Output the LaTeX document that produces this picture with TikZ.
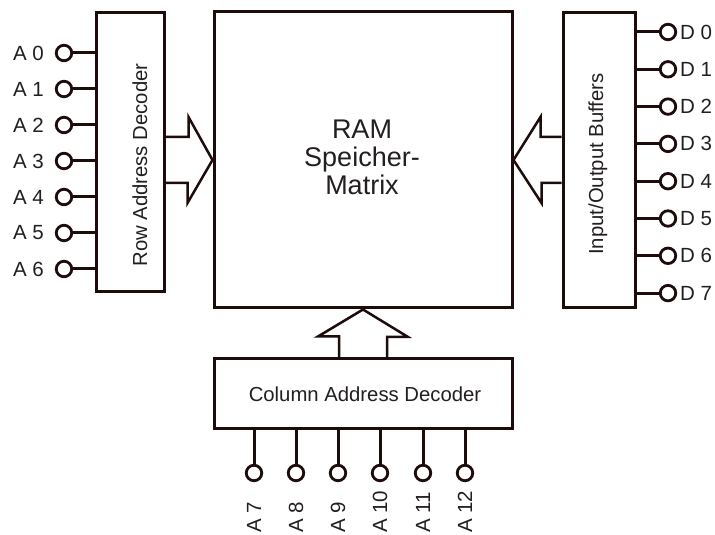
\documentclass[tikz,border=0pt]{standalone}
\usepackage{fontspec}
\setmainfont{Liberation Sans}
\usepackage{tikz}
\usetikzlibrary{calc}
\definecolor{wirecol}{RGB}{30,12,12}
\definecolor{textcol}{RGB}{35,31,32}

\begin{document}
\begin{tikzpicture}[x=1pt, y=1pt,
    block/.style={draw=wirecol, line width=3pt, inner sep=0pt},
    pin/.style={circle, draw=wirecol, line width=2.8pt, minimum size=15.5pt, inner sep=0pt},
    wire/.style={draw=wirecol, line width=3pt},
    fatarrow/.style={draw=wirecol, line width=2.5pt, line join=miter},
    lbl/.style={text=textcol, font=\fontsize{20.5}{22}\selectfont, inner sep=0pt},
    title/.style={text=textcol, font=\fontsize{20.3}{22}\selectfont, inner sep=0pt}]
    \path[fill=white, use as bounding box] (0,0) rectangle (715,535);

    % Draw the main blocks
    \node[block, minimum width=298, minimum height=296] (ram) at (363,375) {};
    \node[block, minimum width=68, minimum height=279] (row) at (130,382.5) {};
    \node[block, minimum width=72, minimum height=295] (io) at (599,374.5) {};
    \node[block, minimum width=298, minimum height=70] (col) at (363,141) {};

    % Block texts
    \node[text=textcol, font=\fontsize{27}{28}\selectfont, align=center] (ramtxt) at (362,378) {RAM\\Speicher-\\Matrix};
    \node[title, rotate=90, anchor=base] (rowtxt) at (147,370) {Row Address Decoder};
    \node[title, rotate=90, anchor=base] (iotxt) at (603,371) {Input/Output Buffers};
    \node[title, anchor=base] (coltxt) at (365,133) {Column Address Decoder};

    % Draw the wide arrows into the matrix
    \draw[fatarrow] ($(row.east |- ram.west)+(0,23)$) -- ++(23,0) -- ++(0,20) -- (ram.west)
        -- ++(-25,-43) -- ++(0,20) -- ($(row.east |- ram.west)+(0,-23)$);
    \draw[fatarrow] ($(io.west |- ram.east)+(0,23)$) -- ++(-21,0) -- ++(0,20) -- (ram.east)
        -- ++(28,-43) -- ++(0,20) -- ($(io.west |- ram.east)+(0,-23)$);
    \draw[fatarrow] ($(col.north)+(-24,0)$) -- ++(0,21) -- ++(-21,0) -- (ram.south)
        -- ++(45,-27.5) -- ++(-21,0) -- ($(col.north)+(24,0)$);

    % Row address pins
    \foreach \i in {0,...,6} {
        \node[pin] (a\i) at (64,482-36*\i) {};
        \node[lbl, anchor=east] (la\i) at (44,482-36*\i) {A \i};
        \draw[wire] (a\i) -- (row.west |- a\i);
    }

    % Data pins
    \foreach \i in {0,...,7} {
        \node[pin] (d\i) at (668,503-37.3*\i) {};
        \node[lbl, anchor=west] (ld\i) at (680,503-37.3*\i) {D \i};
        \draw[wire] (io.east |- d\i) -- (d\i);
    }

    % Column address pins
    \foreach \x/\n in {254/7, 296/8, 338/9, 380/10, 423/11, 465/12} {
        \node[pin] (a\n) at (\x,62) {};
        \node[lbl, rotate=90, anchor=west] (la\n) at (\x,2) {A \n};
        \draw[wire] (col.south -| a\n) -- (a\n);
    }
\end{tikzpicture}
\end{document}
